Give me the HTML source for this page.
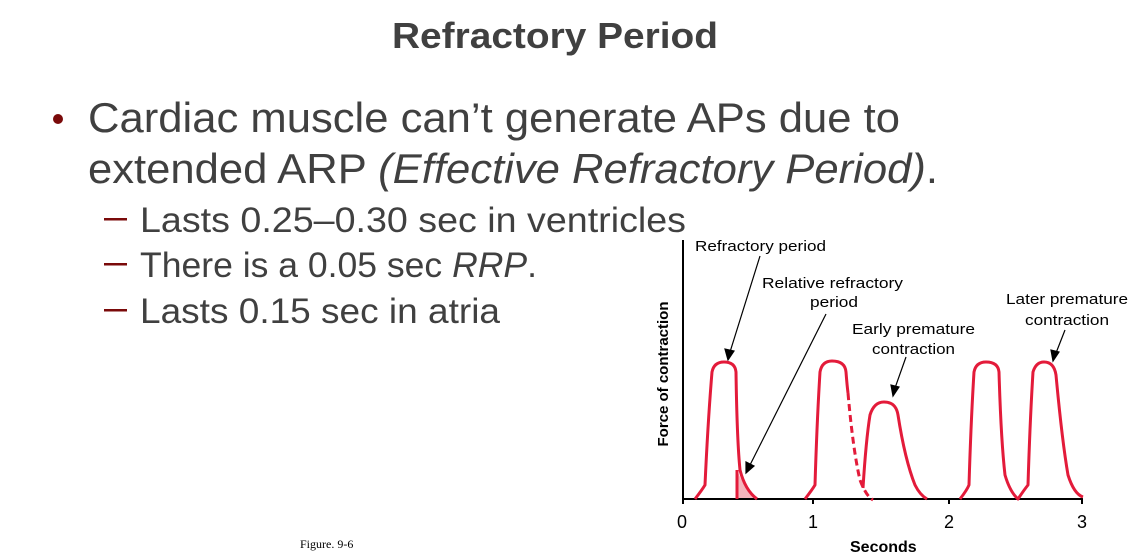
<!DOCTYPE html>
<html><head><meta charset="utf-8"><style>
html,body{margin:0;padding:0;background:#fff;}
svg{display:block;}
</style></head><body>
<svg width="1131" height="556" viewBox="0 0 1131 556" xmlns="http://www.w3.org/2000/svg">
<g font-family="'Liberation Sans',sans-serif" fill="#404040">
<text x="392" y="48" font-size="36" font-weight="bold" textLength="326" lengthAdjust="spacingAndGlyphs">Refractory Period</text>
<circle cx="58" cy="119" r="5" fill="#7a0a0a"/>
<text x="88" y="132" font-size="42" textLength="812" lengthAdjust="spacingAndGlyphs">Cardiac muscle can’t generate APs due to</text>
<text x="88" y="183" font-size="42" textLength="850" lengthAdjust="spacingAndGlyphs">extended ARP <tspan font-style="italic">(Effective Refractory Period)</tspan>.</text>
<g fill="#7a0a0a"><rect x="104" y="218" width="23" height="2.5"/><rect x="104" y="263" width="23" height="2.5"/><rect x="104" y="309" width="23" height="2.5"/></g>
<text x="140" y="232" font-size="35" textLength="546" lengthAdjust="spacingAndGlyphs">Lasts 0.25–0.30 sec in ventricles</text>
<text x="140" y="277" font-size="35" textLength="397" lengthAdjust="spacingAndGlyphs">There is a 0.05 sec <tspan font-style="italic">RRP</tspan>.</text>
<text x="140" y="323" font-size="35" textLength="360" lengthAdjust="spacingAndGlyphs">Lasts 0.15 sec in atria</text>
</g>
<text x="300" y="548" font-family="'Liberation Serif',serif" font-size="12" fill="#000">Figure. 9-6</text>
<g font-family="'Liberation Sans',sans-serif" fill="#000" font-size="15">
<text x="695" y="251" textLength="131" lengthAdjust="spacingAndGlyphs">Refractory period</text>
<text x="762" y="288" textLength="141" lengthAdjust="spacingAndGlyphs">Relative refractory</text>
<text x="810" y="307" textLength="48" lengthAdjust="spacingAndGlyphs">period</text>
<text x="852" y="334" textLength="123" lengthAdjust="spacingAndGlyphs">Early premature</text>
<text x="872" y="354" textLength="83" lengthAdjust="spacingAndGlyphs">contraction</text>
<text x="1006" y="304" textLength="122" lengthAdjust="spacingAndGlyphs">Later premature</text>
<text x="1025" y="325" textLength="84" lengthAdjust="spacingAndGlyphs">contraction</text>
<text x="677" y="528" font-size="18">0</text>
<text x="808" y="528" font-size="18">1</text>
<text x="944" y="528" font-size="18">2</text>
<text x="1077" y="528" font-size="18">3</text>
<text x="850" y="552" font-size="16" font-weight="bold">Seconds</text>
<text transform="translate(668,374) rotate(-90)" text-anchor="middle" font-size="15" font-weight="bold">Force of contraction</text>
</g>
<g stroke="#000" fill="none" stroke-width="2">
<path d="M683 240 V499 H1083"/>
<path d="M683 499v5M813 499v5M949 499v5M1082 499v5"/>
</g>
<g stroke="#000" stroke-width="1.2" fill="#000">
<line x1="760" y1="256" x2="730" y2="352"/><polygon points="728,360 725,349 734,351"/>
<line x1="826" y1="314" x2="750" y2="465"/><polygon points="746,473 746,462 754,466"/>
<line x1="906" y1="357" x2="895" y2="388"/><polygon points="893,396 891,385 899,387"/>
<line x1="1065" y1="330" x2="1056" y2="353"/><polygon points="1053,361 1051,350 1059,352"/>
</g>
<path d="M737 498 L737 470 Q745 490 755 498 Z" fill="#f5b5bd"/>
<g stroke="#e31b3a" stroke-width="3" fill="none" stroke-linejoin="round">
<path d="M695 499 Q702 490 705 485 Q708 420 712 372 Q714 362 724 362 Q735 362 736 372 Q737 440 740 470 Q745 490 757 499"/>
<path d="M737 470 V499"/>
<path d="M805 499 Q812 490 815 485 Q817 420 820 372 Q822 361 832 361 Q845 361 846 372 Q847 385 848 393"/>
<path d="M848 393 Q853 450 860 480 Q866 496 873 500" stroke-dasharray="7,4"/>
<path d="M863 488 Q866 440 870 415 Q874 402 884 402 Q896 402 898 415 Q905 460 915 485 Q920 495 927 499"/>
<path d="M960 499 Q967 490 969 485 Q971 420 974 372 Q976 362 986 362 Q998 362 999 372 Q1001 440 1005 475 Q1010 492 1018 499 Q1024 490 1028 485 Q1030 420 1033 372 Q1036 362 1044 362 Q1054 362 1056 375 Q1062 440 1068 475 Q1074 494 1083 497"/>
</g>
</svg>
</body></html>
